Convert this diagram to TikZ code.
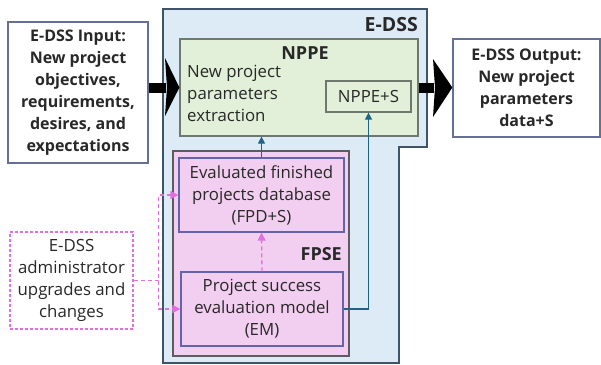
\documentclass[tikz,border=0pt]{standalone}
\usepackage{fontspec}
\setmainfont{Open Sans}
\usetikzlibrary{arrows.meta, positioning, calc}
\definecolor{edssblue}{RGB}{221,235,247}
\definecolor{edssline}{RGB}{62,84,104}
\definecolor{nppegreen}{RGB}{226,240,217}
\definecolor{nppeline}{RGB}{110,120,110}
\definecolor{fpsepink}{RGB}{242,207,240}
\definecolor{fpseline}{RGB}{95,90,95}
\definecolor{innerline}{RGB}{100,100,170}
\definecolor{ioline}{RGB}{100,112,150}
\definecolor{linkteal}{RGB}{31,100,135}
\definecolor{adminpink}{RGB}{226,112,220}
\definecolor{inkgray}{RGB}{40,40,40}

\tikzset{
  plaintxt/.style={text=inkgray, inner sep=0pt, align=center,
    font=\fontsize{16.8bp}{22bp}\selectfont},
  boldtxt/.style={text=inkgray, inner sep=0pt, align=center,
    font=\bfseries\fontsize{16bp}{22bp}\selectfont},
  tagtxt/.style={text=inkgray, inner sep=0pt,
    font=\bfseries\fontsize{18bp}{22bp}\selectfont},
  greenbox/.style={draw=nppeline, fill=nppegreen, line width=1.2bp, plaintxt},
  pinkbox/.style={draw=fpseline, fill=fpsepink, line width=1.2bp},
  innerbox/.style={draw=innerline, fill=fpsepink, line width=1.2bp, plaintxt},
  iobox/.style={draw=ioline, fill=white, line width=1.3bp, boldtxt},
  adminbox/.style={draw=adminpink, fill=white, line width=1.2bp,
    dash pattern=on 3bp off 2bp, plaintxt},
  bigshaft/.style={line width=10bp},
  bighead/.style={fill=black},
  teallink/.style={draw=linkteal, line width=1.2bp,
    -{Triangle[length=7bp, width=7bp]}},
  pinklink/.style={draw=adminpink, line width=1.3bp, dash pattern=on 4bp off 3bp},
  pinktip/.style={-{Triangle[length=8bp, width=8bp]}}
}

\begin{document}
\begin{tikzpicture}[x=1bp, y=-1bp]
    \useasboundingbox (0,0) rectangle (601,364);
    % E-DSS frame
    \filldraw [fill=edssblue, draw=edssline, line width=1.5bp]
        (163,9) -- (427,9) -- (427,147) -- (399,147) -- (399,363) -- (163,363) -- cycle;
    \node [tagtxt, font=\bfseries\fontsize{19.5bp}{22bp}\selectfont, anchor=east] (edss) at (418,25) {E-DSS};
    % NPPE block
    \node [greenbox, minimum width=238bp, minimum height=97bp] (nppe) at (299,87.5) {};
    \node [tagtxt] (nppelbl) at (305,53) {NPPE};
    \node [plaintxt, align=left, anchor=north west] (nppetxt) at (187,65)
        {New project\\parameters\\extraction};
    \node [greenbox, minimum width=85bp, minimum height=31bp] (nppes) at (368.5,96.5) {NPPE+S};
    % FPSE block
    \node [pinkbox, minimum width=176bp, minimum height=205bp] (fpse) at (261,253.5) {};
    \node [tagtxt, anchor=east] (fpselbl) at (342,254) {FPSE};
    \node [innerbox, minimum width=165bp, minimum height=74bp] (fpd) at (261.5,195)
        {Evaluated finished\\projects database\\(FPD+S)};
    \node [innerbox, minimum width=162bp, minimum height=74bp] (em) at (262,309)
        {Project success\\evaluation model\\(EM)};
    % Input and output
    \node [iobox, minimum width=140bp, minimum height=141bp] (input) at (78,92.5)
        {E-DSS Input:\\New project\\objectives,\\requirements,\\desires, and\\expectations};
    \node [iobox, minimum width=147bp, minimum height=98bp] (output) at (526.5,88)
        {E-DSS Output:\\New project\\parameters\\data+S};
    % Administrator
    \node [adminbox, minimum width=123bp, minimum height=97bp] (admin) at (71.5,280.5)
        {E-DSS\\administrator\\upgrades and\\changes};
    % Main flow (thick shafts with wide heads)
    \coordinate (inback) at (165.5,87.5);
    \draw [bigshaft] (input.east |- nppe.west) -- (inback);
    \fill [bighead] (165,58) -- (nppe.west) -- (165,116) -- (167,87.5) -- cycle;
    \coordinate (outtip) at (output.west |- nppe.east);
    \coordinate (outback) at (433.5,87.5);
    \draw [bigshaft] (nppe.east) -- (outback);
    \fill [bighead] (433,59) -- (outtip) -- (433,117) -- (435,87.5) -- cycle;
    % Internal links
    \draw [teallink] (fpd.north) -- (fpd.north |- nppe.south);
    \coordinate (emturn) at (nppes.south |- em.east);
    \draw [teallink] (em.east) -- (emturn) -- (nppes.south);
    \draw [pinklink, pinktip] (em.north) -- (fpd.south);
    % Administrator changes
    \coordinate (adminbus) at ($(admin.east)+(25,0)$);
    \draw [pinklink, pinktip] (admin.east) -- (adminbus) |- (fpd.west);
    \draw [pinklink, pinktip] (adminbus) |- (em.west);
\end{tikzpicture}
\end{document}
